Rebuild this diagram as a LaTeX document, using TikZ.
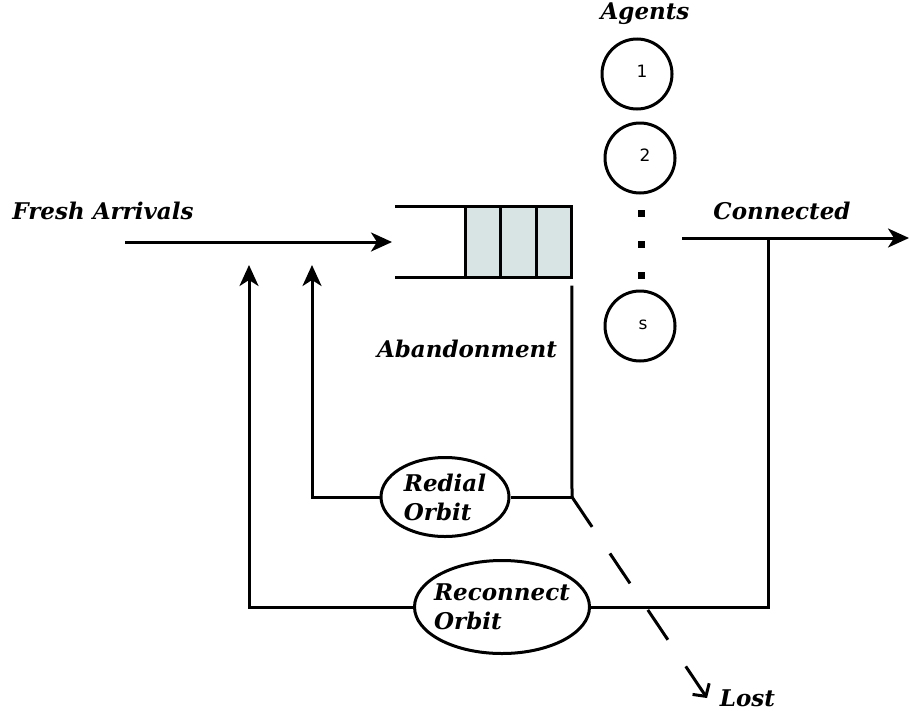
\documentclass[tikz,border=0pt]{standalone}
\usepackage{fontspec}
\setmainfont{DejaVu Serif}
\newfontfamily\numfont{DejaVu Sans}
\usetikzlibrary{arrows.meta,positioning,shapes.geometric}
\definecolor{queuefill}{RGB}{216,228,228}

\begin{document}
\begin{tikzpicture}[x=1pt,y=-1pt,>={Stealth[length=21pt,width=19pt,inset=6pt]},line width=3pt,
                    font=\fontsize{23}{29}\selectfont\bfseries\itshape,
                    agent/.style={circle,draw,minimum size=70pt,inner sep=0pt,
                                  font=\fontsize{17}{19}\selectfont\numfont},
                    cell/.style={draw,fill=queuefill,minimum width=35.5pt,
                                 minimum height=71pt,inner sep=0pt,outer sep=0pt},
                    orbit/.style={ellipse,draw,inner sep=-12pt,align=left}]
  \useasboundingbox (0,0) rectangle (909,715);

	% agents
	\node (agents)              at (645,14)  {Agents};
	\node[agent] (A1)           at (637,74)  {\raisebox{5pt}{\hspace{10pt}1}};
	\node[agent] (A2)           at (640,158) {\raisebox{5pt}{\hspace{10pt}2}};
	\node[agent] (As)           at (640,326) {\raisebox{3pt}{\hspace{6pt}s}};
	\foreach \y in {213,244,275}
	  \fill (641,\y) ++(-3.5,-3.5) rectangle ++(7,7);

	% queue
	\node[cell] (c1)            at (483,242) {};
	\node[cell] (c2) [right=0pt of c1]       {};
	\node[cell] (c3) [right=0pt of c2]       {};
	\draw (c1.north west) ++(-70,0) -- (c3.north east);
	\draw (c1.south west) ++(-70,0) -- (c3.south east);

	% arrivals
	\node (fresh)               at (103,211) {Fresh Arrivals};
	\coordinate (qin)           at (392,242);
	\draw[->] (125,242) -- (qin);

	% connected
	\node (conn)                at (782,211) {Connected};
	\coordinate (cn)            at (768,238);
	\draw[->] (682,238) -- (909,238);

	% abandonment
	\node (aband)               at (467,349) {Abandonment};
	\coordinate (ab)            at (572,497);
	\draw (c3.south east) ++(0,8) -- (ab);

	% orbits
	\node[orbit,minimum width=128pt,minimum height=79pt] (redial) at (445,497) {Redial\\Orbit};
	\node[orbit,minimum width=175pt,minimum height=93pt] (recon)  at (502,607) {Reconnect\\Orbit};
	\draw (ab) -- (redial);
	\draw[->] (redial) -| (312,265);
	\draw (cn) |- (recon);
	\draw[->] (recon) -| (249,265);

	% lost
	\coordinate (lost)          at (707,698);
	\node[right=8pt of lost]    {Lost};
	\draw[-{Straight Barb[length=9pt,width=20pt]},dash pattern=on 36pt off 32pt] (ab) -- (lost);

\end{tikzpicture}
\end{document}
